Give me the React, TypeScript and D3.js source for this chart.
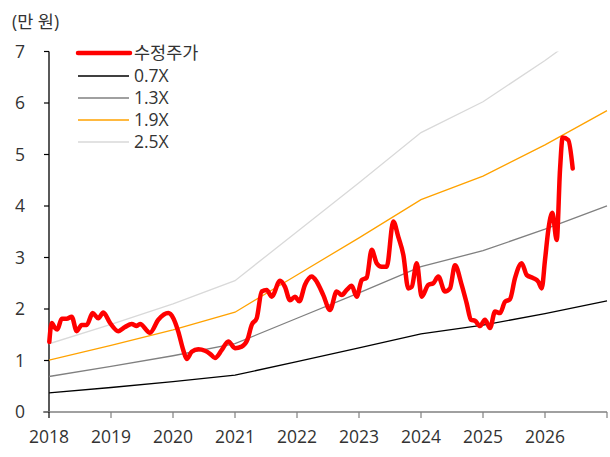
import React from "react";
import * as d3 from "d3";

// Adjusted share price (만 원), dates as decimal years
const priceDates = [
    2018.005, 2018.044, 2018.097, 2018.134, 2018.205, 2018.285, 2018.366, 2018.447, 2018.527, 2018.608,
    2018.705, 2018.795, 2018.876, 2018.984, 2019.118, 2019.226, 2019.334, 2019.415, 2019.468, 2019.629,
    2019.763, 2019.924, 2020.005, 2020.085, 2020.166, 2020.221, 2020.302, 2020.408, 2020.516, 2020.597,
    2020.677, 2020.785, 2020.892, 2021.0, 2021.108, 2021.205, 2021.269, 2021.35, 2021.431, 2021.511,
    2021.592, 2021.726, 2021.806, 2021.887, 2021.968, 2022.037, 2022.129, 2022.237, 2022.318, 2022.424,
    2022.532, 2022.64, 2022.721, 2022.802, 2022.882, 2022.963, 2023.044, 2023.124, 2023.205, 2023.285,
    2023.366, 2023.447, 2023.553, 2023.634, 2023.715, 2023.795, 2023.85, 2023.931, 2024.011, 2024.118,
    2024.198, 2024.279, 2024.387, 2024.468, 2024.548, 2024.656, 2024.737, 2024.806, 2024.871, 2024.952,
    2025.032, 2025.113, 2025.194, 2025.274, 2025.355, 2025.435, 2025.516, 2025.624, 2025.705, 2025.811,
    2025.892, 2025.947, 2026.0, 2026.053, 2026.118, 2026.189, 2026.242, 2026.285, 2026.376, 2026.447,
];
const priceValues = [
    1.36, 1.73, 1.63, 1.6, 1.81, 1.81, 1.85, 1.57, 1.69, 1.69,
    1.92, 1.82, 1.93, 1.73, 1.57, 1.65, 1.71, 1.67, 1.71, 1.54,
    1.79, 1.92, 1.82, 1.56, 1.2, 1.03, 1.17, 1.22, 1.19, 1.13,
    1.05, 1.2, 1.37, 1.24, 1.27, 1.42, 1.69, 1.82, 2.34, 2.37,
    2.24, 2.55, 2.43, 2.17, 2.24, 2.15, 2.47, 2.63, 2.53, 2.27,
    1.98, 2.34, 2.27, 2.37, 2.45, 2.24, 2.56, 2.61, 3.15, 2.89,
    2.82, 2.82, 3.7, 3.4, 3.05, 2.4, 2.43, 2.89, 2.24, 2.47,
    2.5, 2.63, 2.34, 2.4, 2.85, 2.47, 2.11, 1.79, 1.77, 1.67,
    1.79, 1.63, 1.95, 1.92, 2.14, 2.19, 2.6, 2.89, 2.66, 2.6,
    2.53, 2.4, 2.95, 3.53, 3.87, 3.34, 4.7, 5.33, 5.28, 4.73,
];

// Book value per share (만 원) at each year start
const bpsYears = [2018, 2019, 2020, 2021, 2022, 2023, 2024, 2025, 2026, 2027];
const bpsValues = [0.53, 0.68, 0.84, 1.02, 1.4, 1.78, 2.17, 2.41, 2.73, 3.08];

const bandMultiples = [0.7, 1.3, 1.9, 2.5];
const bandLabels = ["0.7X", "1.3X", "1.9X", "2.5X"];
const bandColors = ["#000000", "#808080", "#FFA200", "#D9D9D9"];

const yearTicks = [2018, 2019, 2020, 2021, 2022, 2023, 2024, 2025, 2026, 2027];
const yearLabels = ["2018", "2019", "2020", "2021", "2022", "2023", "2024", "2025", "2026"];
const valueTicks = [0, 1, 2, 3, 4, 5, 6, 7];

const FONT = "'Open Sans', 'Noto Sans CJK KR', sans-serif";
const TEXT = "#333333";
const FS = 17.5;

export default function App(): React.ReactElement {
    const width = 610;
    const height = 457;
    const left = 49;
    const right = 607;
    const top = 51.5;
    const bottom = 412;

    const x = d3.scaleLinear().domain([2018, 2027]).range([left, right]);
    const y = d3.scaleLinear().domain([0, 7]).range([bottom, top]);

    const priceLine = d3.line<number>()
        .x((_, i) => x(priceDates[i]))
        .y((d) => y(d))
        .curve(d3.curveMonotoneX);

    const bandLine = d3.line<number>()
        .x((_, i) => x(bpsYears[i]))
        .y((d) => y(d));

    return (
        <svg width={width} height={height}
            style={{ position: "absolute", left: 0, top: 0, background: "#fff" }}
            fontFamily={FONT}>
            <defs>
                <clipPath id="plotClip">
                    <rect x={left} y={top} width={right - left + 2} height={bottom - top} />
                </clipPath>
            </defs>

            <text x={12} y={28} fontSize={FS} fill={TEXT}>(만 원)</text>

            {/* y axis */}
            <line x1={left} x2={left} y1={top} y2={bottom} stroke="#000" strokeWidth={1.3} />
            {valueTicks.map((v) => (
                <g key={v}>
                    <line x1={left - 5} x2={left} y1={y(v)} y2={y(v)} stroke="#000" strokeWidth={1.2} />
                    <text x={25} y={y(v)} dy="0.35em" textAnchor="end" fontSize={FS} fill={TEXT}>{v}</text>
                </g>
            ))}

            {/* x axis */}
            <line x1={left - 6} x2={right} y1={bottom} y2={bottom} stroke="#808080" strokeWidth={1.3} />
            {yearTicks.map((t) => (
                <line key={t} x1={x(t)} x2={x(t)} y1={bottom} y2={bottom + 6}
                    stroke={t === 2018 ? "#000" : "#808080"} strokeWidth={1.2} />
            ))}
            {yearLabels.map((l, i) => (
                <text key={l} x={x(yearTicks[i])} y={443} textAnchor="middle" fontSize={FS} fill={TEXT}>{l}</text>
            ))}

            {/* PBR bands */}
            <g clipPath="url(#plotClip)">
                {bandMultiples.map((m, i) => (
                    <path key={m} d={bandLine(bpsValues.map((b) => b * m)) ?? ""}
                        fill="none" stroke={bandColors[i]} strokeWidth={1.3} />
                ))}
            </g>

            {/* price */}
            <path d={priceLine(priceValues) ?? ""} fill="none" stroke="#FF0000"
                strokeWidth={4.5} strokeLinejoin="round" strokeLinecap="round" />

            {/* legend */}
            <g>
                <line x1={78} x2={130} y1={53} y2={53} stroke="#FF0000" strokeWidth={4.5} strokeLinecap="round" />
                <text x={134} y={53} dy="0.35em" fontSize={FS} fill={TEXT}>수정주가</text>
                {bandLabels.map((l, i) => (
                    <g key={l}>
                        <line x1={78} x2={129} y1={76 + i * 22} y2={76 + i * 22}
                            stroke={bandColors[i]} strokeWidth={1.3} />
                        <text x={134} y={76 + i * 22} dy="0.35em" fontSize={FS} fill={TEXT}>{l}</text>
                    </g>
                ))}
            </g>
        </svg>
    );
}
